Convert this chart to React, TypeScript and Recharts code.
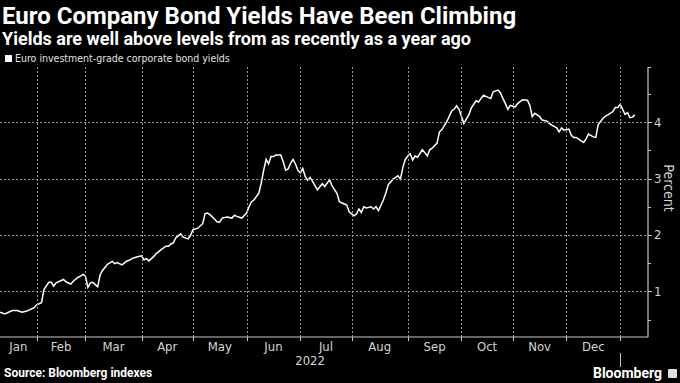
import React from 'react';
import { LineChart, Line, XAxis, YAxis } from 'recharts';

// business-day index since start of series (mid-Jan 2022)
const dayIndex = [
  0, 2, 5, 7, 9, 11, 14, 15, 17, 18, 20, 21, 22, 23, 26, 27, 29, 30, 32, 33, 34, 35, 36, 37, 38, 40, 41, 42, 44,
  46, 47, 48, 50, 52, 53, 54, 56, 58, 59, 60, 61, 63, 64, 66, 68, 69, 70, 71, 72, 74, 75, 77, 78, 79, 81, 83, 84, 85,
  86, 87, 89, 90, 91, 93, 95, 96, 97, 99, 101, 102, 103, 104, 106, 107, 108, 109, 110, 111, 112, 113, 115, 116, 117,
  118, 119, 120, 121, 122, 123, 124, 125, 126, 127, 128, 130, 132, 133, 135, 136, 138, 139, 141, 142, 143, 145, 146,
  147, 148, 149, 150, 152, 153, 154, 155, 157, 158, 159, 161, 163, 164, 165, 166, 167, 168, 169, 170, 171, 173, 174,
  175, 176, 177, 179, 180, 181, 183, 185, 186, 187, 188, 189, 190, 192, 193, 195, 196, 198, 199, 201, 202, 204, 205,
  206, 207, 208, 209, 211, 212, 214, 216, 217, 218, 219, 221, 222, 224, 225, 226, 228, 229, 230, 231, 233, 234, 235,
  236, 238, 239, 240, 241, 243, 244, 245, 247, 248, 249, 251, 252, 253, 254, 255, 256, 257, 258, 259, 260,
];

const yieldPct = [
  0.63, 0.6, 0.66, 0.66, 0.63, 0.65, 0.71, 0.76, 0.8, 1.03, 1.16, 1.16, 1.09, 1.15, 1.21, 1.17, 1.13, 1.18, 1.25, 1.27,
  1.3, 1.27, 1.07, 1.15, 1.16, 1.08, 1.29, 1.37, 1.48,
  1.53, 1.49, 1.51, 1.47, 1.54, 1.55, 1.58, 1.61, 1.63, 1.56, 1.58, 1.54, 1.62, 1.67, 1.74, 1.8, 1.8, 1.84, 1.86, 1.95,
  2.02, 1.96, 1.93, 1.99, 2.09, 2.12, 2.2, 2.38, 2.39,
  2.36, 2.32, 2.23, 2.23, 2.3, 2.32, 2.3, 2.35, 2.33, 2.3, 2.39, 2.5, 2.59, 2.62, 2.74, 2.92, 3.15, 3.34, 3.26, 3.39,
  3.39, 3.42, 3.42, 3.3, 3.15,
  3.17, 3.27, 3.34, 3.26, 3.15, 3.1, 3.18, 3.04, 2.97, 3.02, 2.95, 2.8, 2.91, 2.86, 2.98, 2.87, 2.74, 2.59, 2.55, 2.53,
  2.41, 2.34, 2.37,
  2.46, 2.4, 2.5, 2.48, 2.5, 2.46, 2.5, 2.43, 2.62, 2.74, 2.89, 2.99, 3.05, 2.99, 3.2, 3.34, 3.4, 3.44, 3.33, 3.4, 3.38,
  3.51, 3.46,
  3.4, 3.51, 3.54, 3.63, 3.83, 3.87, 4.01, 4.2, 4.23, 4.29, 4.23, 4.1, 3.98, 4.13, 4.25, 4.38, 4.36, 4.48, 4.46, 4.42,
  4.54, 4.57, 4.52,
  4.42, 4.33, 4.23, 4.3, 4.27, 4.33, 4.4, 4.39, 4.3, 4.1, 4.16, 4.1, 4.04, 4.02, 3.98, 3.95, 3.9, 3.83, 3.9, 3.86, 3.88,
  3.77, 3.73,
  3.73, 3.67, 3.64, 3.7, 3.79, 3.74, 3.73, 3.96, 4.07, 4.11, 4.13, 4.19, 4.26, 4.26, 4.32, 4.23, 4.14, 4.17, 4.08, 4.09,
  4.13,
];

// business-day index where each month begins (Feb 2022 ... Jan 2023)
const monthStarts = [15, 35, 58, 79, 101, 123, 144, 167, 189, 210, 232, 254];
const monthLabels = ['Jan', 'Feb', 'Mar', 'Apr', 'May', 'Jun', 'Jul', 'Aug', 'Sep', 'Oct', 'Nov', 'Dec'];
const yearLabel = '2022';
const xDomain = [0, 265.4];
const yDomain = [0.19, 4.98];
const yTicks = [0.5, 1, 1.5, 2, 2.5, 3, 3.5, 4, 4.5, 4.98];

const data = dayIndex.map((d, i) => ({ d, v: yieldPct[i] }));

const monthStartsWithFirst = [xDomain[0], ...monthStarts];
const monthMids = monthLabels.map((_, i) => (monthStartsWithFirst[i] + monthStartsWithFirst[i + 1]) / 2);
const yearMid = (xDomain[0] + monthStarts[monthStarts.length - 1]) / 2;
const yearEnd = monthStarts[monthStarts.length - 1];

const MARGIN = { top: 67, right: 0, bottom: 43, left: 0 };
const AXIS_FONT = '"DejaVu Sans Condensed", "DejaVu Sans", sans-serif';
const AXIS_COLOR = '#c8c8c8';
const TEXT_COLOR = '#d4d4d4';
const GRID_COLOR = '#9a9a9a';
const GRID_DASH = '2 2';

// month boundary: short tick below the axis plus dotted gridline up through the plot
const MonthTick = (props: any) => {
  const { x, y } = props;
  const xx = Math.round(x) + 0.5;
  return (
    <g>
      <line x1={xx} x2={xx} y1={MARGIN.top} y2={y} stroke={GRID_COLOR} strokeWidth={1} strokeDasharray={GRID_DASH} />
      <line x1={xx} x2={xx} y1={y} y2={y + 4} stroke={AXIS_COLOR} strokeWidth={1} />
    </g>
  );
};

const MonthLabelTick = (props: any) => {
  const { x, y, index } = props;
  return (
    <text x={x} y={y + 13} textAnchor="middle" fill={TEXT_COLOR} fontSize={13} fontFamily={AXIS_FONT}>
      {monthLabels[index]}
    </text>
  );
};

const YearTick = (props: any) => {
  const { x, y, payload } = props;
  if (payload.value === yearEnd) {
    const xx = Math.round(x) + 0.5;
    return <line x1={xx} x2={xx} y1={y + 14} y2={y + 28} stroke={AXIS_COLOR} strokeWidth={1} />;
  }
  return (
    <text x={x} y={y + 26} textAnchor="middle" fill={TEXT_COLOR} fontSize={13} fontFamily={AXIS_FONT}>
      {yearLabel}
    </text>
  );
};

// right axis: integer ticks get a label and a dotted gridline across the plot
const RightTick = (props: any) => {
  const { x, y, payload } = props;
  const v = payload.value;
  const major = Number.isInteger(v);
  const yy = Math.round(y) + 0.5;
  return (
    <g>
      {major && (
        <line x1={MARGIN.left} x2={x} y1={yy} y2={yy} stroke={GRID_COLOR} strokeWidth={1} strokeDasharray={GRID_DASH} />
      )}
      <line x1={x} x2={x + (major ? 4 : 3)} y1={yy} y2={yy} stroke={AXIS_COLOR} strokeWidth={1} />
      {major && (
        <text x={x + 6} y={y + 4.5} textAnchor="start" fill={TEXT_COLOR} fontSize={13} fontFamily={AXIS_FONT}>
          {v}
        </text>
      )}
    </g>
  );
};

const PercentLabel = (props: any) => {
  const { viewBox } = props;
  const cx = viewBox.x + 16;
  const cy = viewBox.y + viewBox.height / 2 - 14;
  return (
    <text
      x={cx}
      y={cy}
      transform={`rotate(90 ${cx} ${cy})`}
      textAnchor="middle"
      fill={TEXT_COLOR}
      fontSize={14}
      fontFamily={AXIS_FONT}
    >
      Percent
    </text>
  );
};

export default function App() {
  return (
    <div
      style={{
        position: 'absolute',
        left: 0,
        top: 0,
        width: 680,
        height: 383,
        background: '#000',
        overflow: 'hidden',
        fontFamily: 'Roboto, "Liberation Sans", sans-serif',
      }}
    >
      <div
        style={{
          position: 'absolute',
          left: 2,
          top: 2,
          color: '#fff',
          fontSize: 24,
          fontWeight: 700,
          whiteSpace: 'nowrap',
          lineHeight: '28px',
        }}
      >
        Euro Company Bond Yields Have Been Climbing
      </div>
      <div
        style={{
          position: 'absolute',
          left: 2,
          top: 28,
          color: '#fff',
          fontSize: 18,
          fontWeight: 700,
          whiteSpace: 'nowrap',
          lineHeight: '22px',
        }}
      >
        Yields are well above levels from as recently as a year ago
      </div>
      <div
        style={{
          position: 'absolute',
          left: 5,
          top: 51,
          color: '#e0e0e0',
          fontSize: 10.5,
          whiteSpace: 'nowrap',
          lineHeight: '14px',
          fontFamily: AXIS_FONT,
          display: 'flex',
          alignItems: 'center',
        }}
      >
        <span style={{ display: 'inline-block', width: 7, height: 7, background: '#fff', marginRight: 3 }} />
        Euro investment-grade corporate bond yields
      </div>

      <div style={{ position: 'absolute', left: 0, top: 0 }}>
        <LineChart width={680} height={383} data={data} margin={MARGIN}>
          <YAxis
            orientation="right"
            type="number"
            domain={yDomain}
            ticks={yTicks}
            allowDataOverflow
            width={32}
            axisLine={{ stroke: AXIS_COLOR, strokeWidth: 1.2 }}
            tickLine={false}
            tickSize={0}
            tickMargin={0}
            tick={<RightTick />}
            interval={0}
            label={<PercentLabel />}
          />
          <XAxis
            dataKey="d"
            type="number"
            domain={xDomain}
            ticks={monthStarts}
            allowDataOverflow
            axisLine={{ stroke: AXIS_COLOR, strokeWidth: 1.2 }}
            tickLine={false}
            tickSize={0}
            tickMargin={0}
            tick={<MonthTick />}
            height={1}
            interval={0}
          />
          <XAxis
            xAxisId="labels"
            dataKey="d"
            type="number"
            domain={xDomain}
            ticks={monthMids}
            allowDataOverflow
            axisLine={false}
            tickLine={false}
            tickSize={0}
            tickMargin={0}
            tick={<MonthLabelTick />}
            height={1}
            interval={0}
          />
          <XAxis
            xAxisId="year"
            dataKey="d"
            type="number"
            domain={xDomain}
            ticks={[yearMid, yearEnd]}
            allowDataOverflow
            axisLine={false}
            tickLine={false}
            tickSize={0}
            tickMargin={0}
            tick={<YearTick />}
            height={1}
            interval={0}
          />
          <Line
            dataKey="v"
            type="linear"
            stroke="#ffffff"
            strokeWidth={1.5}
            dot={false}
            isAnimationActive={false}
          />
        </LineChart>
      </div>

      <div
        style={{
          position: 'absolute',
          left: 4,
          top: 366,
          color: '#fff',
          fontSize: 12,
          fontWeight: 700,
          whiteSpace: 'nowrap',
          lineHeight: '14px',
        }}
      >
        Source: Bloomberg indexes
      </div>
      <div
        style={{
          position: 'absolute',
          right: 18,
          top: 364,
          color: '#fff',
          fontSize: 14,
          fontWeight: 700,
          whiteSpace: 'nowrap',
          lineHeight: '18px',
        }}
      >
        Bloomberg
      </div>
      <div
        style={{
          position: 'absolute',
          left: 668,
          top: 369,
          width: 9,
          height: 9,
          background: '#e0e0e0',
          borderRadius: 1,
        }}
      />
    </div>
  );
}
